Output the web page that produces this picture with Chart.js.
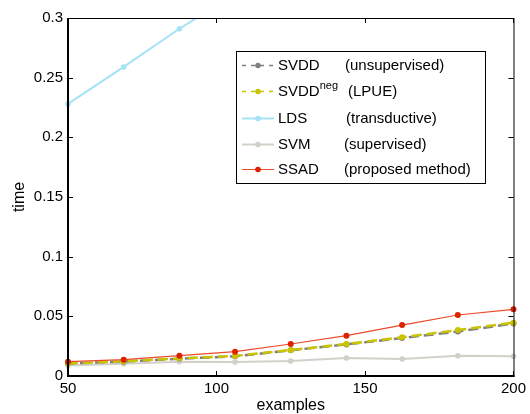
<!DOCTYPE html>
<html>
<head>
<meta charset="utf-8">
<script src="https://cdn.jsdelivr.net/npm/chart.js@4"></script>
<style>
  html, body { margin: 0; padding: 0; background: #fff; }
</style>
</head>
<body>
<canvas id="c" width="530" height="414"></canvas>
<script>
'use strict';
// ---------- data ----------
const examples = [50, 68.75, 87.5, 106.25, 125, 143.75, 162.5, 181.25, 200];
const svdd    = [0.0105, 0.0120, 0.0145, 0.0165, 0.0215, 0.0265, 0.0318, 0.0372, 0.0440];
const svddNeg = [0.0105, 0.0123, 0.0148, 0.0168, 0.0218, 0.0268, 0.0324, 0.0385, 0.0447];
const lds     = [0.228, 0.259, 0.291, 0.320];
const svm     = [0.0087, 0.0103, 0.0120, 0.0117, 0.0126, 0.0151, 0.0142, 0.0170, 0.0165];
const ssad    = [0.0120, 0.0137, 0.0170, 0.0204, 0.0268, 0.0338, 0.0427, 0.0511, 0.0559];

const xTicks = [50, 100, 150, 200];
const yTicks = [0, 0.05, 0.1, 0.15, 0.2, 0.25, 0.3];

const FONT = "'Liberation Sans', Arial, Helvetica, sans-serif";

const pts = ys => ys.map((v, i) => ({ x: examples[i], y: v }));

// legend rows: name, superscript, description, style
const legendRows = [
    { name: 'SVDD', sup: '',    desc: '(unsupervised)',      descX: 345, color: '#808080', dot: '#808080', width: 1.5, dash: [4, 5] },
    { name: 'SVDD', sup: 'neg', desc: '(LPUE)',              descX: 348, color: '#c8c400', dot: '#c8c400', width: 1.5, dash: [4, 5] },
    { name: 'LDS',  sup: '',    desc: '(transductive)',      descX: 346, color: '#a6e2f6', dot: '#a6e2f6', width: 2,   dash: [] },
    { name: 'SVM',  sup: '',    desc: '(supervised)',        descX: 344, color: '#d3d0ca', dot: '#d3d0ca', width: 2,   dash: [] },
    { name: 'SSAD', sup: '',    desc: '(proposed method)',   descX: 344, color: '#ec4a2a', dot: '#dd2200', width: 1,   dash: [] },
];
const legendRowY = [65, 91, 118, 144, 169];

// ---------- frame: MATLAB-like box with inward ticks ----------
const framePlugin = {
    id: 'frame',
    afterDatasetsDraw(chart) {
        const { ctx, chartArea: a, scales: { x, y } } = chart;
        ctx.save();
        ctx.strokeStyle = '#000';
        ctx.lineWidth = 1;
        ctx.strokeRect(a.left + 0.5, a.top + 0.5, a.right - a.left, a.bottom - a.top);

        ctx.beginPath();
        xTicks.forEach(v => {
            const px = Math.round(x.getPixelForValue(v)) + 0.5;
            ctx.moveTo(px, a.bottom); ctx.lineTo(px, a.bottom - 5);
            ctx.moveTo(px, a.top);    ctx.lineTo(px, a.top + 5);
        });
        yTicks.forEach(v => {
            const py = Math.round(y.getPixelForValue(v)) + 0.5;
            ctx.moveTo(a.left, py);  ctx.lineTo(a.left + 5, py);
            ctx.moveTo(a.right, py); ctx.lineTo(a.right - 5, py);
        });
        ctx.stroke();

        // left and bottom axes are drawn heavier
        ctx.lineWidth = 2;
        ctx.beginPath();
        ctx.moveTo(a.left, a.top);
        ctx.lineTo(a.left, a.bottom);
        ctx.lineTo(a.right + 1, a.bottom);
        ctx.stroke();
        ctx.restore();
    },
    afterDraw(chart) {
        const ctx = chart.ctx;
        ctx.save();
        // legend box
        ctx.fillStyle = '#fff';
        ctx.fillRect(236, 51, 249, 132);
        ctx.strokeStyle = '#000';
        ctx.lineWidth = 1;
        ctx.strokeRect(236.5, 51.5, 249, 132);

        ctx.textBaseline = 'middle';
        legendRows.forEach((r, i) => {
            const yy = legendRowY[i] + 0.5;
            ctx.strokeStyle = r.color;
            ctx.lineWidth = r.width;
            ctx.setLineDash(r.dash);
            ctx.beginPath();
            ctx.moveTo(242, yy);
            ctx.lineTo(274, yy);
            ctx.stroke();
            ctx.setLineDash([]);
            ctx.fillStyle = r.dot;
            ctx.beginPath();
            ctx.arc(258, yy, 2.8, 0, Math.PI * 2);
            ctx.fill();

            ctx.fillStyle = '#000';
            ctx.font = '15px ' + FONT;
            ctx.fillText(r.name, 278, yy);
            if (r.sup) {
                const w = ctx.measureText(r.name).width;
                ctx.font = '11px ' + FONT;
                ctx.fillText(r.sup, 278 + w, yy - 6);
                ctx.font = '15px ' + FONT;
            }
            ctx.fillText(r.desc, r.descX, yy);
        });
        ctx.restore();
    },
};

Chart.defaults.font.family = FONT;
Chart.defaults.font.size = 15;
Chart.defaults.color = '#000';

const clipBox = { left: 5, right: 5, top: 0, bottom: 5 };

new Chart(document.getElementById('c'), {
    type: 'line',
    data: {
        datasets: [
            {
                label: 'SSAD', data: pts(ssad),
                borderColor: '#ec4a2a', borderWidth: 1.2,
                pointRadius: 3, pointBackgroundColor: '#dd2200', pointBorderWidth: 0,
                clip: clipBox,
            },
            {
                label: 'SVDDneg', data: pts(svddNeg),
                borderColor: '#c8c400', borderWidth: 2.5, borderDash: [10, 5],
                pointRadius: 3, pointBackgroundColor: '#c8c400', pointBorderWidth: 0,
                clip: clipBox,
            },
            {
                label: 'SVDD', data: pts(svdd),
                borderColor: '#808080', borderWidth: 2.5, borderDash: [10, 5], borderDashOffset: 3,
                pointRadius: 3, pointBackgroundColor: '#808080', pointBorderWidth: 0,
                clip: clipBox,
            },
            {
                label: 'LDS', data: pts(lds),
                borderColor: '#a6e2f6', borderWidth: 2,
                pointRadius: 2.8, pointBackgroundColor: '#a6e2f6', pointBorderWidth: 0,
                clip: clipBox,
            },
            {
                label: 'SVM', data: pts(svm),
                borderColor: '#d3d0ca', borderWidth: 2,
                pointRadius: 2.8, pointBackgroundColor: '#d3d0ca', pointBorderWidth: 0,
                clip: clipBox,
            },
        ],
    },
    options: {
        responsive: false,
        animation: false,
        devicePixelRatio: 1,
        layout: { padding: { top: 18, right: 15, left: 0, bottom: 0 } },
        plugins: { legend: { display: false }, tooltip: { enabled: false } },
        elements: { line: { tension: 0 } },
        scales: {
            x: {
                type: 'linear', min: 50, max: 200,
                afterBuildTicks: s => { s.ticks = xTicks.map(v => ({ value: v })); },
                afterFit: s => { s.height = 38; },
                grid: { display: false, drawTicks: false },
                border: { display: false },
                ticks: { padding: 4, maxRotation: 0, font: { size: 15 } },
                title: { display: true, text: 'examples', font: { size: 16, lineHeight: 1 }, padding: 0 },
            },
            y: {
                type: 'linear', min: 0, max: 0.3,
                afterBuildTicks: s => { s.ticks = yTicks.map(v => ({ value: v })); },
                afterFit: s => { s.width = 68; },
                grid: { display: false, drawTicks: false },
                border: { display: false },
                ticks: { padding: 5, font: { size: 15 }, callback: v => String(+v.toFixed(2)) },
                title: { display: true, text: 'time', font: { size: 16, lineHeight: 1 }, padding: { top: 12, bottom: 0 } },
            },
        },
    },
    plugins: [framePlugin],
});
</script>
</body>
</html>
